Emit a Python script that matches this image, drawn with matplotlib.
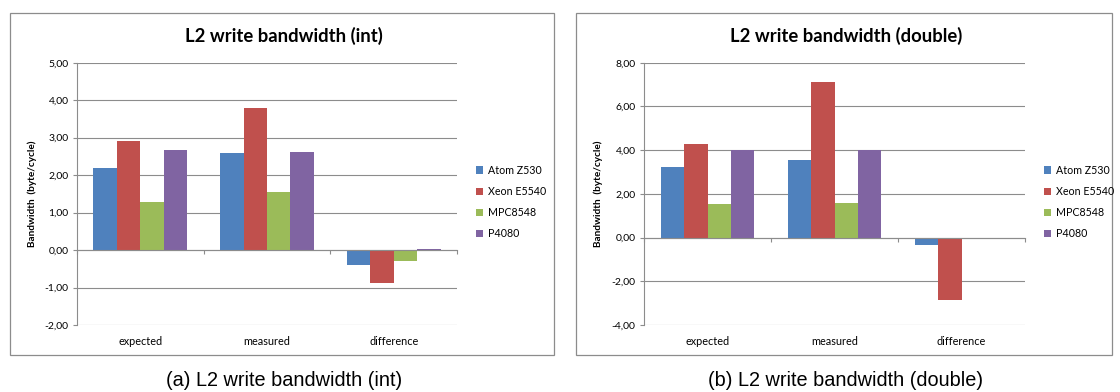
import matplotlib.pyplot as plt
from matplotlib.patches import Patch, Rectangle

# data
categories = ['expected', 'measured', 'difference']
cpus = ['Atom Z530', 'Xeon E5540', 'MPC8548', 'P4080']
colors = ['#4F81BD', '#C0504D', '#9BBB59', '#8064A2']

int_atom = [2.20, 2.59, -0.41]
int_xeon = [2.91, 3.78, -0.88]
int_mpc = [1.27, 1.56, -0.29]
int_p4080 = [2.68, 2.63, 0.04]

dbl_atom = [3.21, 3.54, -0.34]
dbl_xeon = [4.26, 7.11, -2.87]
dbl_mpc = [1.53, 1.56, -0.05]
dbl_p4080 = [4.00, 4.00, 0.0]

int_ticks = [-2, -1, 0, 1, 2, 3, 4, 5]
int_ticklabels = ['-2,00', '-1,00', '0,00', '1,00', '2,00', '3,00', '4,00', '5,00']
dbl_ticks = [-4, -2, 0, 2, 4, 6, 8]
dbl_ticklabels = ['-4,00', '-2,00', '0,00', '2,00', '4,00', '6,00', '8,00']

W, H = 1120, 392
fig = plt.figure(figsize=(W / 100, H / 100), dpi=100)

excel_font = 'Lato'
grid_col = '#8C8C8C'


def px(x, y):
    # pixel (top-left origin) -> figure fraction
    return x / W, 1 - y / H


def panel(x0, x1, box, series, ticks, ticklabels, title, caption, leg_x, ylab_x):
    # frame around the chart
    bx0, bx1 = box
    fig.patches.append(Rectangle((bx0 / W, 1 - 355 / H), (bx1 - bx0) / W, (355 - 13) / H,
                                 transform=fig.transFigure, fill=False,
                                 edgecolor=grid_col, linewidth=0.9))
    ax = fig.add_axes([x0 / W, 1 - 325 / H, (x1 - x0) / W, (325 - 62.7) / H])
    w = 0.185
    for i, vals in enumerate(series):
        xs = [c + 0.5 + (i - 1.5) * w for c in range(len(categories))]
        ax.bar(xs, vals, width=w, color=colors[i], zorder=3, label=cpus[i])
    ax.set_xlim(0, 3)
    ax.set_ylim(ticks[0], ticks[-1])
    ax.set_yticks(ticks)
    ax.set_yticklabels(ticklabels, fontsize=7.5, family=excel_font)
    ax.yaxis.grid(True, color=grid_col, linewidth=0.8, zorder=0)
    for s in ['top', 'right']:
        ax.spines[s].set_visible(False)
    ax.spines['left'].set_color(grid_col)
    ax.spines['bottom'].set_color(grid_col)
    ax.spines['bottom'].set_position(('data', 0))
    ax.spines['bottom'].set_zorder(4)
    ax.set_xticks([0, 1, 2, 3])
    ax.set_xticklabels([])
    ax.tick_params(axis='x', direction='out', length=3, color=grid_col, width=0.8)
    ax.tick_params(axis='y', direction='out', length=3, color=grid_col, width=0.8, pad=3)
    for c, name in enumerate(categories):
        ax.text(c + 0.5, -0.062, name, transform=ax.get_xaxis_transform(),
                ha='center', va='center', fontsize=7.8, family=excel_font)
    fig.text(*px(ylab_x, 194), 'Bandwidth  (byte/cycle)', rotation=90, ha='center',
             va='center', fontsize=7.2, fontweight='bold', family=excel_font)
    fig.text(*px((bx0 + bx1) / 2 + 2, 36), title, ha='center', va='center',
             fontsize=13.3, fontweight='bold', family=excel_font)
    fig.text(*px((bx0 + bx1) / 2 + 2, 381), caption, ha='center', va='center',
             fontsize=14.3, family='Liberation Sans')
    handles = [Patch(facecolor=col, label=lab) for col, lab in zip(colors, cpus)]
    fig.legend(handles=handles, loc='center left', bbox_to_anchor=px(leg_x, 202),
               frameon=False, prop={'family': excel_font, 'size': 7.7},
               handlelength=0.65, handleheight=0.65, handletextpad=0.5,
               labelspacing=0.95, borderaxespad=0, borderpad=0)
    return ax


panel(77, 457, (9.5, 554), [int_atom, int_xeon, int_mpc, int_p4080],
      int_ticks, int_ticklabels, 'L2 write bandwidth (int)',
      '(a) L2 write bandwidth (int)', 476, 32)
panel(644, 1025, (576, 1112), [dbl_atom, dbl_xeon, dbl_mpc, dbl_p4080],
      dbl_ticks, dbl_ticklabels, 'L2 write bandwidth (double)',
      '(b) L2 write bandwidth (double)', 1044, 598)

plt.savefig('out.png', dpi=100)
